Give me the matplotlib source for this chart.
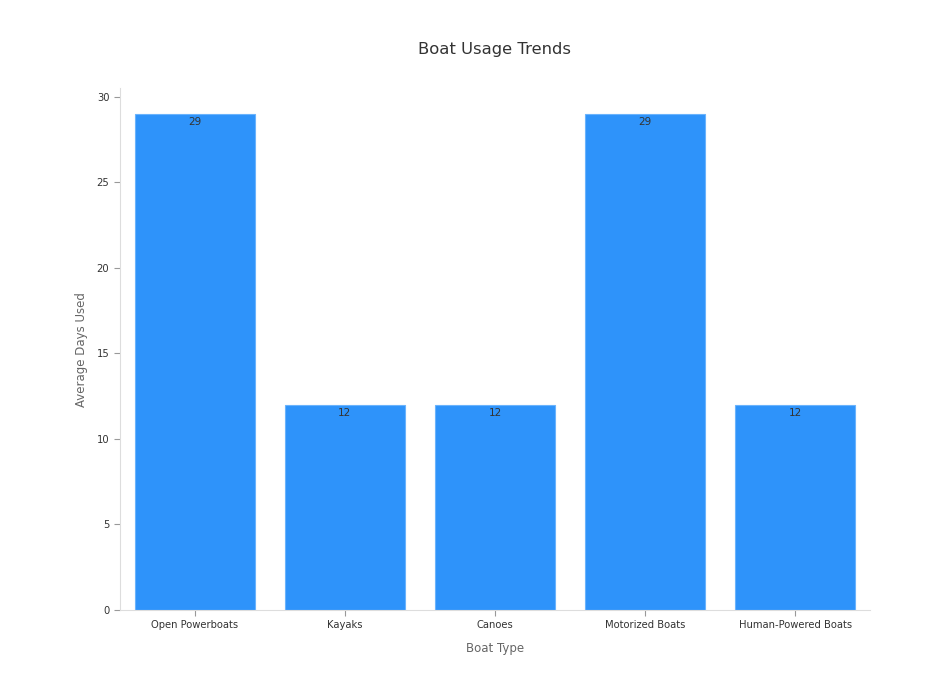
import matplotlib.pyplot as plt

categories = ["Open Powerboats", "Kayaks", "Canoes", "Motorized Boats", "Human-Powered Boats"]
values = [29, 12, 12, 29, 12]

fig = plt.figure(figsize=(9.5, 6.82), dpi=100)
ax = fig.add_axes([0.126, 0.1056, 0.79, 0.765])

bars = ax.bar(range(len(categories)), values, width=0.8, color="#2E93FA",
              edgecolor="#6AB3FC", linewidth=0.8)
for b, v in zip(bars, values):
    ax.text(b.get_x() + b.get_width() / 2, v - 0.2, str(v), ha="center", va="top",
            fontsize=7.5, color="#333333")

ax.set_xlim(-0.5, len(categories) - 0.5)
ax.set_ylim(0, 30.5)
ax.set_yticks([0, 5, 10, 15, 20, 25, 30])
ax.set_xticks(range(len(categories)))
ax.set_xticklabels(categories)
ax.tick_params(axis="both", labelsize=7.2, colors="#333333", length=4, width=0.8)
ax.tick_params(axis="both", color="#999999")

for s in ["top", "right"]:
    ax.spines[s].set_visible(False)
for s in ["left", "bottom"]:
    ax.spines[s].set_color("#dddddd")

ax.set_xlabel("Boat Type", fontsize=8.5, color="#666666", labelpad=8)
ax.set_ylabel("Average Days Used", fontsize=8.5, color="#666666", labelpad=6)
fig.text(0.521, 0.928, "Boat Usage Trends", ha="center", va="center", fontsize=11.8, color="#333333")

fig.savefig("out.png", dpi=100)
